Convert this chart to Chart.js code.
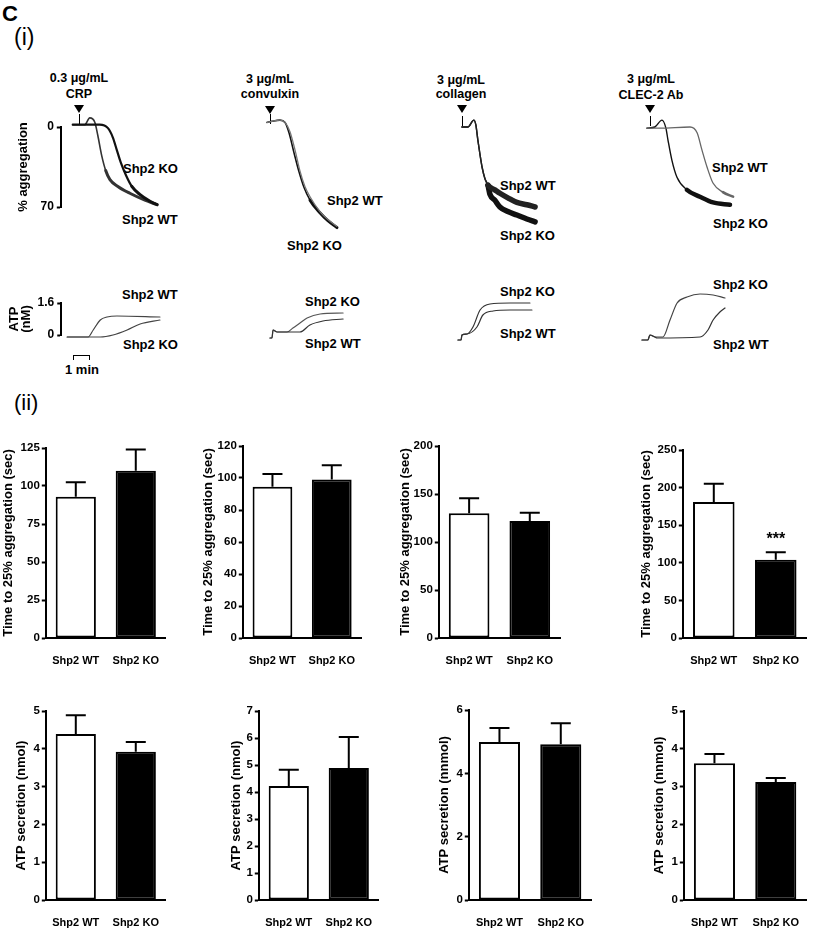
<!DOCTYPE html>
<html lang="en">
<head>
<meta charset="UTF-8">
<title>Shp2 KO platelets: aggregation and ATP secretion</title>
<script src="https://cdn.jsdelivr.net/npm/chart.js@4.4.0/dist/chart.umd.min.js"></script>
<style>
    body { margin: 0; background: #fff; }
    #fig {
        position: relative;
        width: 815px;
        height: 940px;
        overflow: hidden;
        font-family: "Liberation Sans", Arial, sans-serif;
        color: #000;
    }
    #fig canvas { position: absolute; }
    .t { position: absolute; font-weight: bold; font-size: 13px; line-height: 1; white-space: nowrap; }
    .h { font-size: 12.5px; transform: translateX(-50%); }
    .tri {
        position: absolute; width: 0; height: 0;
        border-left: 5px solid transparent; border-right: 5px solid transparent;
        border-top: 8px solid #000; transform: translateX(-50%);
    }
    .inj { position: absolute; width: 1px; height: 10px; background: #000; }
    .scalebar { position: absolute; border: 1.5px solid #000; border-bottom: none; height: 4px; }
</style>
</head>
<body>
<div id="fig">
    <div class="t" style="left:2px;top:3px;font-size:22px">C</div>
    <div class="t" style="left:14px;top:26px;font-size:23px;font-weight:normal">(i)</div>
    <div class="t" style="left:14px;top:392px;font-size:22px;font-weight:normal">(ii)</div>

    <!-- agonist headers -->
    <div class="t h" style="left:79px;top:72px">0.3 μg/mL</div>
    <div class="t h" style="left:79px;top:88px">CRP</div>
    <div class="tri" style="left:79px;top:105px"></div>
    <div class="t h" style="left:270px;top:73px">3 μg/mL</div>
    <div class="t h" style="left:270px;top:88px">convulxin</div>
    <div class="tri" style="left:270px;top:106px"></div>
    <div class="t h" style="left:461px;top:74px">3 μg/mL</div>
    <div class="t h" style="left:461px;top:88px">collagen</div>
    <div class="tri" style="left:462px;top:105px"></div>
    <div class="t h" style="left:651px;top:73px">3 μg/mL</div>
    <div class="t h" style="left:651px;top:89px">CLEC-2 Ab</div>
    <div class="tri" style="left:650px;top:105px"></div>
    <div class="inj" style="left:79px;top:114px"></div>
    <div class="inj" style="left:270px;top:114px"></div>
    <div class="inj" style="left:462px;top:116px"></div>
    <div class="inj" style="left:650px;top:116px"></div>

    <!-- trace labels: aggregation -->
    <div class="t" style="left:123px;top:162px">Shp2 KO</div>
    <div class="t" style="left:122px;top:213px">Shp2 WT</div>
    <div class="t" style="left:327px;top:194px">Shp2 WT</div>
    <div class="t" style="left:287px;top:239px">Shp2 KO</div>
    <div class="t" style="left:500px;top:179px">Shp2 WT</div>
    <div class="t" style="left:500px;top:229px">Shp2 KO</div>
    <div class="t" style="left:712px;top:161px">Shp2 WT</div>
    <div class="t" style="left:713px;top:217px">Shp2 KO</div>

    <!-- trace labels: ATP -->
    <div class="t" style="left:122px;top:288px">Shp2 WT</div>
    <div class="t" style="left:123px;top:338px">Shp2 KO</div>
    <div class="t" style="left:305px;top:295px">Shp2 KO</div>
    <div class="t" style="left:305px;top:337px">Shp2 WT</div>
    <div class="t" style="left:500px;top:285px">Shp2 KO</div>
    <div class="t" style="left:500px;top:327px">Shp2 WT</div>
    <div class="t" style="left:713px;top:278px">Shp2 KO</div>
    <div class="t" style="left:713px;top:338px">Shp2 WT</div>

    <div class="scalebar" style="left:73px;top:355px;width:15px"></div>
    <div class="t" style="left:65px;top:363px">1 min</div>
</div>

<script>
    // ---- data ----
    const groups = ['Shp2 WT', 'Shp2 KO'];

    // aggregation traces: [time (s), % aggregation]
    const crpWT = [[0,-2],[42,-2],[60,-8],[78,-4],[88,7],[102,25],[116,38],[131,46],[159,52],[201,58],[254,64],[297,68]];
    const crpKO = [[0,-2],[95,-2],[124,1],[141,9],[155,20],[169,31],[187,42],[208,52],[236,59],[272,65],[297,68]];
    const cvxWT = [[0,-4],[18,-5],[46,-6],[64,-4],[81,4],[99,20],[116,38],[134,52],[152,61],[187,74],[215,81],[247,87]];
    const cvxKO = [[0,-4],[18,-5],[46,-6],[64,-4],[78,5],[95,22],[113,39],[131,53],[152,64],[187,75],[215,82],[247,88]];
    const colWT = [[0,0],[21,0],[42,-6],[49,-2],[56,11],[64,24.5],[71,35],[81,45],[92,51],[116,55],[134,58],[162,62],[194,66],[229,68],[258,70]];
    const colKO = [[0,0],[21,0],[42,-6],[49,-2],[56,11],[64,24.5],[71,35],[81,45],[92,51],[99,59],[116,64],[134,70],[162,74],[194,77],[229,80.5],[258,83]];
    const clecWT = [[0,1],[46,1],[152,0],[177,5],[194,20],[212,35],[233,49],[268,57],[304,61]];
    const clecKO = [[0,1],[28,0],[53,-6],[67,1],[74,11],[88,29],[106,44],[141,55],[187,61],[233,66],[293,68]];

    // ATP release traces: [time (s), ATP (nM)]
    const atpCrpWT = [[0,-0.1],[74,-0.1],[92,0.25],[117,0.75],[141,0.9],[176,0.95],[328,0.9]];
    const atpCrpKO = [[0,-0.1],[117,-0.1],[162,0],[212,0.25],[258,0.55],[328,0.75]];
    const atpCvxWT = [[0,-0.15],[7,-0.15],[11,0.25],[25,0.15],[60,0.15],[106,0.15],[141,0.5],[187,0.7],[258,0.8]];
    const atpCvxKO = [[0,-0.15],[7,-0.15],[11,0.25],[25,0.15],[60,0.15],[81,0.35],[106,0.6],[131,0.85],[177,1.05],[258,1.1]];
    const atpColWT = [[0,-0.25],[11,-0.25],[14,0],[32,0.05],[67,0.4],[88,1.0],[124,1.2],[184,1.25],[261,1.25]];
    const atpColKO = [[0,-0.25],[11,-0.25],[14,0],[32,0.05],[53,0.4],[78,1.25],[113,1.55],[184,1.6],[254,1.6]];
    const atpClecWT = [[0,-0.25],[21,-0.25],[28,0],[46,-0.1],[53,-0.15],[205,-0.1],[233,0.25],[251,0.75],[275,1.15],[293,1.35]];
    const atpClecKO = [[0,-0.25],[21,-0.25],[28,0],[46,-0.1],[74,-0.1],[99,0.75],[124,1.6],[159,1.9],[205,2.05],[251,2.0],[293,1.85]];

    // time to 25% aggregation (sec), mean and SEM [WT, KO]
    const timeCRP = [93, 110],   timeCRPsem = [9.5, 14];
    const timeCVX = [94.5, 99],  timeCVXsem = [8, 9];
    const timeCOL = [130, 122],  timeCOLsem = [15.5, 8.5];
    const timeCLEC = [181, 104], timeCLECsem = [24, 10];

    // ATP secretion (nmol), mean and SEM [WT, KO]
    const atpCRP = [4.39, 3.92],  atpCRPsem = [0.5, 0.26];
    const atpCVX = [4.22, 4.89],  atpCVXsem = [0.6, 1.15];
    const atpCOL = [4.99, 4.92],  atpCOLsem = [0.44, 0.66];
    const atpCLEC = [3.62, 3.12], atpCLECsem = [0.24, 0.11];

    // axis tick settings [max, step]
    const timeTicks = [[125, 25], [120, 20], [200, 50], [250, 50]];
    const atpTicks = [[5, 1], [7, 1], [6, 2], [5, 1]];
    const aggBracket = [0, 70];
    const atpBracket = [0, 1.6];

    // ---- drawing ----
    const FONT = '"Liberation Sans", Arial, sans-serif';
    Chart.defaults.font.family = FONT;
    Chart.defaults.color = '#000';
    const fig = document.getElementById('fig');

    function makeCanvas(areaL, areaT, areaW, areaH, axW, axH, pad) {
        const cv = document.createElement('canvas');
        const w = Math.round(pad.left + axW + areaW + pad.right);
        const h = Math.round(pad.top + areaH + axH + pad.bottom);
        cv.width = w; cv.height = h;
        cv.style.left = (areaL - axW - pad.left) + 'px';
        cv.style.top = (areaT - pad.top) + 'px';
        cv.style.width = w + 'px';
        cv.style.height = h + 'px';
        fig.appendChild(cv);
        return cv;
    }

    // error bars (upper whisker only) + significance marks
    const errorBars = {
        id: 'errorBars',
        afterDatasetsDraw(chart, args, opts) {
            const ctx = chart.ctx;
            const y = chart.scales.y;
            const vals = chart.data.datasets[0].data;
            ctx.save();
            ctx.strokeStyle = '#000';
            ctx.lineWidth = 2;
            chart.getDatasetMeta(0).data.forEach((bar, i) => {
                const top = y.getPixelForValue(vals[i] + opts.sem[i]);
                ctx.beginPath();
                ctx.moveTo(bar.x, bar.y);
                ctx.lineTo(bar.x, top);
                ctx.moveTo(bar.x - 10, top);
                ctx.lineTo(bar.x + 10, top);
                ctx.stroke();
                if (opts.marks && opts.marks[i]) {
                    ctx.fillStyle = '#000';
                    ctx.font = 'bold 16px ' + FONT;
                    ctx.textAlign = 'center';
                    ctx.textBaseline = 'middle';
                    ctx.fillText(opts.marks[i], bar.x, top - 13);
                }
            });
            ctx.restore();
        }
    };

    function barChart(L, T, R, B, titleC, title, vals, sem, ticks, marks) {
        const pad = { left: 0, right: 4, top: 12, bottom: 2 };
        const axW = L - (titleC - 7.8);
        const axH = 34;
        const cv = makeCanvas(L, T, R - L, B - T, axW, axH, pad);
        new Chart(cv, {
            type: 'bar',
            data: {
                labels: groups,
                datasets: [{
                    data: vals,
                    backgroundColor: ['#fff', '#000'],
                    borderColor: '#000',
                    borderWidth: 2,
                    borderSkipped: false,
                    barPercentage: 0.67,
                    categoryPercentage: 1
                }]
            },
            plugins: [errorBars],
            options: {
                responsive: false,
                animation: false,
                events: [],
                layout: { padding: pad },
                plugins: {
                    legend: { display: false },
                    tooltip: { enabled: false },
                    errorBars: { sem: sem, marks: marks }
                },
                scales: {
                    x: {
                        grid: { display: false, drawTicks: false },
                        border: { display: true, color: '#000', width: 2 },
                        ticks: { color: '#000', padding: 16, font: { size: 11, weight: 'bold' } },
                        afterFit: s => { s.height = axH; }
                    },
                    y: {
                        min: 0,
                        max: ticks[0],
                        ticks: { stepSize: ticks[1], color: '#000', padding: 2, font: { size: 11.5, weight: 'bold' } },
                        grid: { drawOnChartArea: false, tickLength: 4, tickWidth: 2, tickColor: '#000' },
                        border: { display: true, color: '#000', width: 2 },
                        title: { display: true, text: title, color: '#000', padding: 0, font: { size: 13, weight: 'bold' } },
                        afterFit: s => { s.width = axW; }
                    }
                }
            }
        });
    }

    function traceChart(areaL, areaT, areaW, areaH, xr, yr, reverse, sets, axis) {
        const pad = { left: axis ? 0 : 5, right: 10, top: 22, bottom: 30 };
        const axW = axis ? areaL - axis.scaleLeft : 0;
        const cv = makeCanvas(areaL, areaT, areaW, areaH, axW, 0, pad);
        const yScale = {
            min: yr[0], max: yr[1], reverse: reverse, display: !!axis
        };
        if (axis) {
            Object.assign(yScale, {
                afterBuildTicks: s => { s.ticks = axis.ticks.map(v => ({ value: v })); },
                afterFit: s => { s.width = axW; },
                border: { display: true, color: '#000', width: 2 },
                grid: { drawOnChartArea: false, tickLength: 4, tickWidth: 2, tickColor: '#000' },
                ticks: { color: '#000', padding: 3, font: { size: 12, weight: 'bold' } },
                title: {
                    display: true, text: axis.title, color: '#000', padding: 0,
                    font: { size: 13, weight: 'bold', lineHeight: axis.lineHeight }
                }
            });
        }
        new Chart(cv, {
            type: 'line',
            data: {
                datasets: sets.map(s => ({
                    data: s.data.map(p => ({ x: p[0], y: p[1] })),
                    borderColor: s.color,
                    borderWidth: s.width,
                    borderCapStyle: 'round',
                    borderJoinStyle: 'round',
                    pointRadius: 0,
                    cubicInterpolationMode: 'monotone',
                    clip: false,
                    fill: false,
                    segment: s.thickAfter != null
                        ? { borderWidth: c => (c.p0.parsed.x >= s.thickAfter ? s.thick : s.width) }
                        : undefined
                }))
            },
            options: {
                responsive: false,
                animation: false,
                events: [],
                layout: { padding: pad },
                plugins: { legend: { display: false }, tooltip: { enabled: false } },
                scales: {
                    x: { type: 'linear', min: xr[0], max: xr[1], display: false },
                    y: yScale
                }
            }
        });
    }

    // aggregation traces (0% at top, 70% at bottom)
    const aggX = [-42, 360], aggY = [0, 70];
    traceChart(61, 127, 114, 80, aggX, aggY, true, [
        { data: crpKO, color: '#111', width: 2.2, thickAfter: 200, thick: 3 },
        { data: crpWT, color: '#333', width: 1.6, thickAfter: 110, thick: 3 }
    ], { title: '% aggregation', ticks: aggBracket, scaleLeft: 16.2, lineHeight: 1.2 });
    traceChart(255, 127, 114, 80, aggX, aggY, true, [
        { data: cvxWT, color: '#777', width: 1.3 },
        { data: cvxKO, color: '#111', width: 1.6, thickAfter: 150, thick: 3 }
    ]);
    traceChart(450, 127, 114, 80, aggX, aggY, true, [
        { data: colWT, color: '#222', width: 1.4, thickAfter: 85, thick: 5.5 },
        { data: colKO, color: '#111', width: 1.4, thickAfter: 85, thick: 5.5 }
    ]);
    traceChart(635, 127, 114, 80, aggX, aggY, true, [
        { data: clecWT, color: '#666', width: 1.3, thickAfter: 260, thick: 2.5 },
        { data: clecKO, color: '#111', width: 1.4, thickAfter: 110, thick: 4.5 }
    ]);

    // ATP release traces
    const atpX = [-21, 360], atpY = [0, 1.6];
    traceChart(61, 303, 108, 32, atpX, atpY, false, [
        { data: atpCrpWT, color: '#444', width: 1.2 },
        { data: atpCrpKO, color: '#444', width: 1.2 }
    ], { title: ['ATP', '(nM)'], ticks: atpBracket, scaleLeft: 8.75, lineHeight: 0.885 });
    traceChart(264, 303, 108, 32, atpX, atpY, false, [
        { data: atpCvxWT, color: '#333', width: 1.2 },
        { data: atpCvxKO, color: '#555', width: 1.2 }
    ]);
    traceChart(452, 303, 108, 32, atpX, atpY, false, [
        { data: atpColWT, color: '#333', width: 1.2 },
        { data: atpColKO, color: '#333', width: 1.2 }
    ]);
    traceChart(636, 303, 108, 32, atpX, atpY, false, [
        { data: atpClecWT, color: '#333', width: 1.2 },
        { data: atpClecKO, color: '#444', width: 1.2 }
    ]);

    // time to 25% aggregation
    const timeTitle = 'Time to 25% aggregation (sec)';
    barChart(46, 448, 172, 638, 9, timeTitle, timeCRP, timeCRPsem, timeTicks[0]);
    barChart(243, 446, 368, 638, 209, timeTitle, timeCVX, timeCVXsem, timeTicks[1]);
    barChart(439, 446, 566, 638, 406, timeTitle, timeCOL, timeCOLsem, timeTicks[2]);
    barChart(683, 450, 812, 638, 647, timeTitle, timeCLEC, timeCLECsem, timeTicks[3], ['', '***']);

    // ATP secretion
    barChart(46, 711, 172, 900, 22, 'ATP secretion (nmol)', atpCRP, atpCRPsem, atpTicks[0]);
    barChart(259, 711, 385, 900, 237, 'ATP secretion (nmol)', atpCVX, atpCVXsem, atpTicks[1]);
    barChart(469, 710, 597, 900, 445, 'ATP secretion (nnmol)', atpCOL, atpCOLsem, atpTicks[2]);
    barChart(684, 711, 812, 900, 660, 'ATP secretion (nnmol)', atpCLEC, atpCLECsem, atpTicks[3]);
</script>
</body>
</html>
